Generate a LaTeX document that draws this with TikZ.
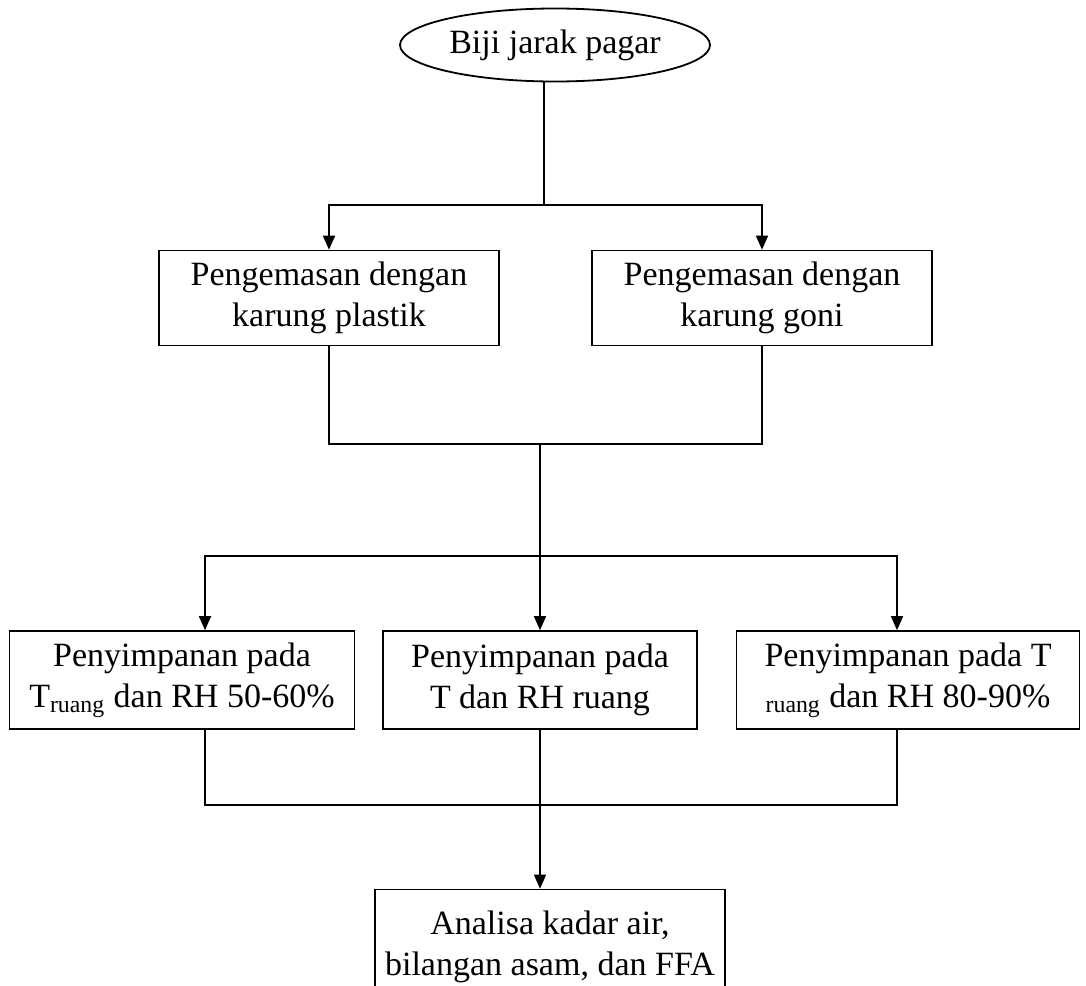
\documentclass[tikz,border=0pt]{standalone}
\usepackage{fontspec}
\setmainfont{Liberation Serif}
\usetikzlibrary{shapes.geometric,arrows.meta,calc}

\begin{document}
\begin{tikzpicture}[x=0.5pt,y=-0.5pt,
  every node/.style={font=\fontsize{17}{20.5}\selectfont},
  proc/.style={draw,line width=0.8pt,align=center,minimum height=47.5pt,inner sep=0pt},
  ln/.style={line width=0.8pt},
  arr/.style={ln,-{Triangle[length=7pt,width=6pt]}}]
\useasboundingbox (0,0) rectangle (1086,985);
\node[draw,ellipse,line width=0.9pt,minimum width=155pt,minimum height=36.5pt,inner sep=0pt] (biji) at (555,45) {Biji jarak pagar};
\node[proc,minimum width=170pt] (plas) at (329,298) {Pengemasan dengan\\karung plastik};
\node[proc,minimum width=170pt] (goni) at (762,298) {Pengemasan dengan\\karung goni};
\node[proc,minimum width=172.5pt,minimum height=49pt] (tr1) at (182,680) {Penyimpanan pada\\T\textsubscript{ruang} dan RH 50-60\%};
\node[proc,minimum width=157pt,minimum height=49pt] (tr2) at (540,680) {Penyimpanan pada\\T dan RH ruang};
\node[proc,minimum width=171.5pt,minimum height=49pt] (tr3) at (908,680) {Penyimpanan pada T\\\textsubscript{ruang} dan RH 80-90\%};
\node[proc,minimum width=175pt,minimum height=57.5pt] (anl) at (550,947) {Analisa kadar air,\\bilangan asam, dan FFA};
\coordinate (f1) at (544,205);
\coordinate (m1) at (540,444);
\coordinate (f2) at (540,556);
\coordinate (d1) at (205,556);
\coordinate (d3) at (897,556);
\coordinate (m2) at (540,805);
\draw[ln] (biji.south -| f1) -- (f1);
\draw[arr] (f1) -| (plas.north);
\draw[arr] (f1) -| (goni.north);
\draw[ln] (plas.south) |- (m1);
\draw[ln] (goni.south) |- (m1);
\draw[ln] (m1) -- (f2);
\draw[arr] (f2) -- (d1) -- (d1 |- tr1.north);
\draw[arr] (f2) -- (f2 |- tr2.north);
\draw[arr] (f2) -- (d3) -- (d3 |- tr3.north);
\draw[ln] (d1 |- tr1.south) |- (m2);
\draw[ln] (d3 |- tr3.south) |- (m2);
\draw[arr] (tr2.south) -- (tr2.south |- anl.north);
\end{tikzpicture}
\end{document}
